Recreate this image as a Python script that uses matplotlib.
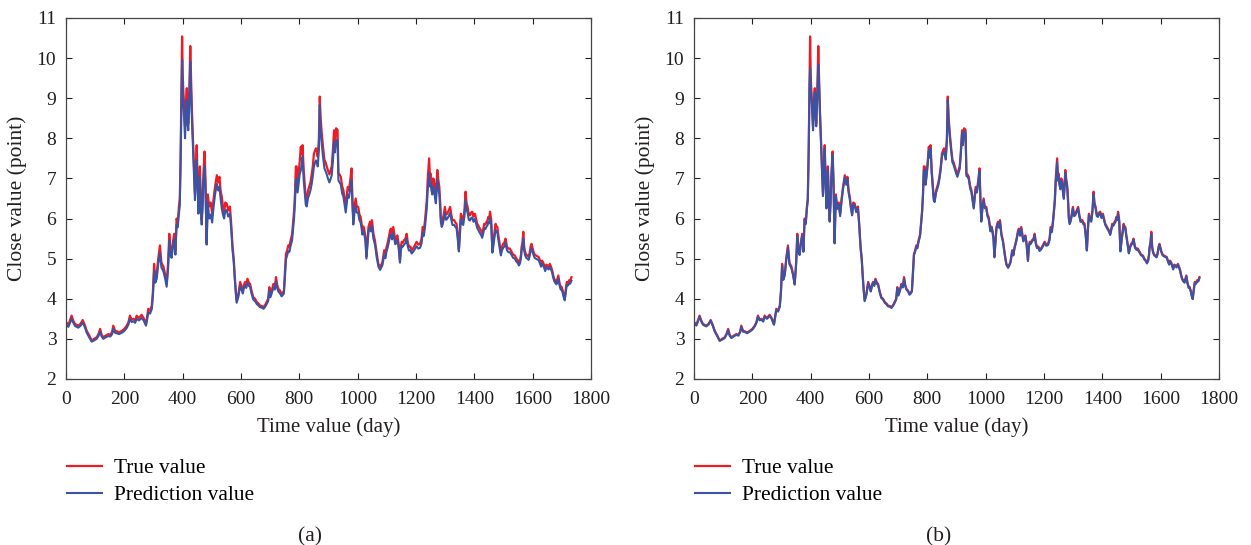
import numpy as np
import matplotlib
matplotlib.use("Agg")
import matplotlib.pyplot as plt

# values
days = [0, 8, 19, 25, 31, 42, 50, 57, 64, 71, 80, 88, 96, 105, 111, 117, 122, 128, 136, 145,
        152, 158, 162, 168, 174, 182, 191, 200, 208, 214, 219, 225, 231, 237, 242, 250, 259, 266, 274, 279,
        282, 288, 294, 298, 302, 306, 311, 316, 322, 327, 334, 340, 345, 350, 354, 358, 362, 366, 371, 375,
        379, 383, 387, 390, 393, 396, 398, 400, 402, 405, 408, 411, 414, 417, 419, 422, 426, 429, 432, 435,
        437, 440, 442, 445, 448, 451, 454, 457, 459, 462, 465, 468, 471, 475, 478, 482, 486, 491, 496, 501,
        506, 511, 517, 522, 526, 530, 534, 538, 542, 546, 551, 556, 562, 566, 571, 575, 578, 582, 585, 591,
        597, 602, 606, 610, 614, 618, 622, 627, 631, 636, 642, 648, 654, 660, 665, 671, 677, 683, 688, 693,
        697, 701, 705, 708, 711, 716, 720, 724, 728, 734, 739, 743, 747, 751, 754, 758, 762, 766, 770, 775,
        779, 782, 785, 788, 791, 794, 797, 801, 805, 808, 811, 815, 819, 822, 825, 830, 834, 838, 842, 846,
        850, 854, 857, 860, 863, 867, 870, 873, 877, 881, 886, 890, 894, 898, 903, 907, 911, 915, 919, 922,
        926, 931, 934, 938, 942, 947, 951, 955, 959, 963, 966, 970, 974, 979, 982, 985, 989, 993, 997, 1002,
        1006, 1010, 1013, 1016, 1020, 1023, 1027, 1030, 1034, 1037, 1042, 1046, 1049, 1054, 1059, 1062, 1065, 1068, 1071, 1077,
        1081, 1085, 1091, 1095, 1099, 1103, 1107, 1111, 1114, 1118, 1122, 1126, 1129, 1133, 1136, 1140, 1145, 1148, 1151, 1155,
        1159, 1164, 1168, 1172, 1176, 1181, 1185, 1189, 1193, 1197, 1202, 1208, 1214, 1219, 1223, 1227, 1231, 1234, 1237, 1240,
        1245, 1248, 1250, 1253, 1256, 1259, 1262, 1265, 1268, 1271, 1273, 1276, 1280, 1283, 1285, 1288, 1291, 1295, 1299, 1303,
        1307, 1312, 1317, 1321, 1325, 1331, 1335, 1339, 1343, 1347, 1351, 1354, 1358, 1362, 1366, 1370, 1373, 1377, 1381, 1385,
        1389, 1393, 1397, 1402, 1406, 1410, 1415, 1419, 1423, 1427, 1431, 1434, 1438, 1442, 1445, 1448, 1451, 1454, 1458, 1462,
        1465, 1467, 1470, 1473, 1476, 1479, 1482, 1485, 1488, 1491, 1495, 1499, 1503, 1507, 1512, 1517, 1522, 1528, 1533, 1539,
        1544, 1549, 1553, 1557, 1560, 1562, 1565, 1568, 1571, 1574, 1578, 1582, 1586, 1589, 1593, 1596, 1600, 1603, 1607, 1611,
        1616, 1621, 1625, 1629, 1632, 1635, 1639, 1643, 1647, 1651, 1655, 1659, 1663, 1667, 1670, 1674, 1678, 1682, 1685, 1688,
        1692, 1696, 1699, 1703, 1706, 1710, 1713, 1717, 1721, 1725, 1729, 1733]

true_value = [3.42, 3.35, 3.58, 3.45, 3.37, 3.33, 3.38, 3.47, 3.35, 3.20, 3.08, 2.96, 3.00, 3.04, 3.12, 3.25, 3.10, 3.04, 3.08, 3.12,
              3.10, 3.18, 3.33, 3.20, 3.19, 3.16, 3.20, 3.25, 3.33, 3.42, 3.58, 3.48, 3.50, 3.45, 3.58, 3.52, 3.60, 3.52, 3.37, 3.60,
              3.75, 3.70, 3.83, 4.20, 4.87, 4.50, 4.62, 5.00, 5.33, 4.90, 4.80, 4.60, 4.37, 4.90, 5.62, 5.20, 5.12, 5.40, 5.62, 5.20,
              6.00, 5.90, 6.30, 6.50, 7.70, 9.50, 10.54, 9.60, 9.20, 8.80, 8.30, 8.90, 9.25, 8.60, 8.37, 9.00, 10.30, 9.40, 8.62, 8.00,
              7.54, 7.00, 6.62, 7.20, 7.83, 7.00, 6.30, 6.80, 7.30, 6.50, 5.96, 6.40, 7.10, 7.67, 7.00, 5.40, 6.60, 6.30, 6.40, 6.12,
              6.50, 6.80, 7.08, 6.90, 7.04, 6.70, 6.54, 6.30, 6.12, 6.40, 6.37, 6.20, 6.30, 5.90, 5.30, 5.00, 4.62, 4.20, 3.96, 4.12,
              4.42, 4.30, 4.20, 4.35, 4.42, 4.35, 4.50, 4.40, 4.37, 4.20, 4.04, 4.00, 3.92, 3.88, 3.83, 3.82, 3.79, 3.85, 3.92, 4.00,
              4.29, 4.10, 4.20, 4.28, 4.37, 4.30, 4.54, 4.35, 4.25, 4.20, 4.12, 4.15, 4.20, 4.70, 5.12, 5.20, 5.33, 5.30, 5.46, 5.60,
              5.96, 6.20, 6.62, 7.30, 7.30, 6.90, 7.10, 7.40, 7.79, 7.60, 7.83, 7.20, 6.80, 6.50, 6.46, 6.70, 6.80, 6.90, 7.08, 7.30,
              7.62, 7.70, 7.75, 7.70, 7.54, 8.00, 9.04, 8.50, 8.12, 7.80, 7.46, 7.40, 7.30, 7.20, 7.10, 7.20, 7.30, 7.70, 8.20, 7.90,
              8.25, 8.21, 7.12, 7.10, 7.04, 6.80, 6.71, 6.50, 6.29, 6.60, 6.79, 6.70, 6.92, 7.25, 6.50, 5.96, 6.30, 6.50, 6.30, 6.29,
              6.10, 6.04, 5.90, 5.71, 5.80, 5.71, 5.50, 5.05, 5.50, 5.79, 5.92, 5.80, 5.96, 5.62, 5.46, 5.30, 5.12, 5.00, 4.87, 4.79,
              4.85, 4.92, 5.21, 5.10, 5.29, 5.40, 5.54, 5.70, 5.75, 5.60, 5.79, 5.60, 5.46, 5.50, 5.58, 5.40, 4.96, 5.30, 5.42, 5.40,
              5.46, 5.50, 5.62, 5.40, 5.29, 5.30, 5.21, 5.25, 5.29, 5.35, 5.42, 5.35, 5.37, 5.50, 5.79, 5.70, 5.96, 6.20, 6.46, 6.96,
              7.50, 7.00, 7.12, 6.90, 6.79, 7.00, 6.96, 6.70, 6.54, 6.90, 7.21, 7.00, 6.79, 6.40, 6.04, 5.90, 5.96, 6.10, 6.29, 6.10,
              6.12, 6.20, 6.29, 6.10, 5.96, 5.96, 5.90, 5.87, 5.60, 5.22, 5.80, 6.12, 6.00, 5.96, 6.20, 6.67, 6.40, 6.29, 6.10, 6.08,
              6.15, 6.17, 6.05, 6.12, 6.00, 5.87, 5.80, 5.75, 5.70, 5.62, 5.75, 5.87, 5.85, 5.92, 5.95, 6.04, 6.00, 6.17, 5.96, 5.20,
              5.40, 5.54, 5.70, 5.87, 5.80, 5.79, 5.60, 5.46, 5.30, 5.15, 5.30, 5.37, 5.40, 5.50, 5.30, 5.25, 5.25, 5.17, 5.10, 5.08,
              5.00, 4.96, 4.90, 4.96, 5.10, 5.29, 5.40, 5.67, 5.30, 5.17, 5.10, 5.08, 5.05, 5.12, 5.30, 5.37, 5.25, 5.17, 5.10, 5.08,
              5.06, 5.04, 4.95, 4.87, 4.95, 4.92, 4.85, 4.75, 4.85, 4.83, 4.80, 4.87, 4.80, 4.71, 4.60, 4.50, 4.45, 4.42, 4.50, 4.58,
              4.40, 4.29, 4.30, 4.21, 4.10, 4.00, 4.20, 4.42, 4.40, 4.46, 4.45, 4.54]

pred_a = [3.36, 3.30, 3.50, 3.40, 3.32, 3.28, 3.33, 3.41, 3.30, 3.15, 3.03, 2.93, 2.96, 3.00, 3.07, 3.18, 3.06, 3.00, 3.04, 3.07,
          3.06, 3.12, 3.25, 3.15, 3.14, 3.12, 3.15, 3.20, 3.27, 3.36, 3.50, 3.42, 3.44, 3.40, 3.50, 3.46, 3.52, 3.46, 3.33, 3.52,
          3.66, 3.63, 3.74, 4.08, 4.70, 4.40, 4.50, 4.86, 5.15, 4.78, 4.68, 4.50, 4.30, 4.76, 5.45, 5.08, 5.02, 5.26, 5.48, 5.10,
          5.84, 5.78, 6.12, 6.32, 7.40, 9.10, 9.96, 9.30, 8.87, 8.50, 8.00, 8.60, 8.96, 8.35, 8.20, 8.70, 9.92, 9.10, 8.40, 7.80,
          7.40, 6.85, 6.46, 7.00, 7.46, 6.80, 6.12, 6.60, 7.05, 6.30, 5.85, 6.22, 6.90, 7.30, 6.80, 5.35, 6.40, 6.00, 6.10, 5.90,
          6.30, 6.60, 6.87, 6.70, 6.79, 6.50, 6.25, 6.10, 6.00, 6.20, 6.21, 6.05, 6.12, 5.78, 5.20, 4.92, 4.55, 4.14, 3.90, 4.05,
          4.33, 4.22, 4.13, 4.27, 4.33, 4.27, 4.40, 4.32, 4.30, 4.13, 3.98, 3.94, 3.87, 3.83, 3.79, 3.78, 3.75, 3.80, 3.87, 3.94,
          4.20, 4.04, 4.13, 4.20, 4.28, 4.23, 4.44, 4.27, 4.18, 4.13, 4.06, 4.09, 4.13, 4.58, 4.98, 5.08, 5.18, 5.17, 5.32, 5.45,
          5.78, 6.02, 6.40, 6.95, 7.00, 6.65, 6.85, 7.10, 7.20, 7.35, 7.54, 6.95, 6.60, 6.35, 6.30, 6.52, 6.60, 6.70, 6.85, 7.05,
          7.30, 7.40, 7.45, 7.42, 7.30, 7.70, 8.83, 8.20, 7.85, 7.55, 7.25, 7.18, 7.10, 7.00, 6.90, 6.98, 7.08, 7.42, 7.90, 7.65,
          7.96, 7.95, 6.95, 6.90, 6.85, 6.62, 6.55, 6.35, 6.15, 6.42, 6.60, 6.52, 6.72, 6.95, 6.35, 5.85, 6.15, 6.32, 6.15, 6.14,
          5.96, 5.90, 5.78, 5.60, 5.68, 5.60, 5.40, 5.00, 5.38, 5.65, 5.78, 5.68, 5.82, 5.50, 5.36, 5.21, 5.04, 4.93, 4.80, 4.72,
          4.78, 4.84, 5.10, 5.01, 5.18, 5.28, 5.42, 5.56, 5.60, 5.48, 5.64, 5.48, 5.36, 5.39, 5.46, 5.30, 4.90, 5.20, 5.31, 5.30,
          5.35, 5.39, 5.50, 5.30, 5.20, 5.21, 5.13, 5.16, 5.20, 5.25, 5.31, 5.25, 5.27, 5.38, 5.64, 5.57, 5.80, 6.02, 6.26, 6.70,
          7.12, 6.80, 6.90, 6.70, 6.60, 6.80, 6.76, 6.52, 6.38, 6.70, 6.98, 6.80, 6.60, 6.25, 5.92, 5.79, 5.84, 5.97, 6.14, 5.97,
          5.99, 6.06, 6.14, 5.97, 5.84, 5.84, 5.79, 5.76, 5.50, 5.18, 5.66, 5.98, 5.88, 5.84, 6.05, 6.45, 6.24, 6.14, 5.97, 5.95,
          6.01, 6.03, 5.92, 5.99, 5.88, 5.76, 5.69, 5.64, 5.59, 5.52, 5.64, 5.76, 5.74, 5.80, 5.83, 5.91, 5.88, 6.02, 5.84, 5.15,
          5.30, 5.42, 5.57, 5.72, 5.68, 5.66, 5.49, 5.36, 5.21, 5.08, 5.21, 5.27, 5.30, 5.39, 5.21, 5.16, 5.16, 5.09, 5.02, 5.00,
          4.93, 4.89, 4.83, 4.89, 5.02, 5.19, 5.29, 5.50, 5.20, 5.09, 5.02, 5.00, 4.97, 5.04, 5.20, 5.26, 5.16, 5.09, 5.02, 5.00,
          4.98, 4.96, 4.88, 4.80, 4.88, 4.85, 4.78, 4.69, 4.78, 4.76, 4.73, 4.80, 4.73, 4.65, 4.54, 4.44, 4.39, 4.36, 4.44, 4.51,
          4.34, 4.23, 4.24, 4.15, 4.05, 3.96, 4.13, 4.35, 4.33, 4.38, 4.38, 4.45]

pred_b = [3.40, 3.33, 3.55, 3.43, 3.35, 3.31, 3.36, 3.45, 3.33, 3.18, 3.06, 2.95, 2.98, 3.02, 3.10, 3.22, 3.08, 3.02, 3.06, 3.10,
          3.08, 3.16, 3.30, 3.18, 3.17, 3.14, 3.18, 3.23, 3.31, 3.40, 3.55, 3.46, 3.48, 3.43, 3.55, 3.50, 3.57, 3.50, 3.35, 3.57,
          3.72, 3.68, 3.80, 4.15, 4.82, 4.47, 4.58, 4.95, 5.28, 4.86, 4.76, 4.57, 4.35, 4.85, 5.56, 5.16, 5.09, 5.36, 5.57, 5.17,
          5.95, 5.86, 6.25, 6.45, 7.60, 9.30, 9.75, 9.40, 9.10, 8.70, 8.20, 8.80, 9.15, 8.50, 8.30, 8.90, 9.85, 9.30, 8.55, 7.92,
          7.48, 6.95, 6.56, 7.14, 7.75, 6.93, 6.25, 6.74, 7.22, 6.44, 5.92, 6.35, 7.04, 7.58, 6.94, 5.38, 6.55, 6.24, 6.34, 6.06,
          6.44, 6.74, 7.02, 6.84, 6.98, 6.64, 6.48, 6.25, 6.08, 6.35, 6.32, 6.16, 6.25, 5.86, 5.27, 4.97, 4.60, 4.18, 3.94, 4.10,
          4.39, 4.28, 4.18, 4.32, 4.39, 4.32, 4.47, 4.37, 4.35, 4.18, 4.02, 3.98, 3.90, 3.86, 3.81, 3.80, 3.77, 3.83, 3.90, 3.98,
          4.26, 4.08, 4.18, 4.25, 4.34, 4.28, 4.50, 4.32, 4.23, 4.18, 4.10, 4.13, 4.18, 4.66, 5.08, 5.17, 5.29, 5.26, 5.42, 5.56,
          5.91, 6.15, 6.55, 7.22, 7.22, 6.84, 7.03, 7.32, 7.70, 7.52, 7.75, 7.12, 6.74, 6.45, 6.41, 6.65, 6.74, 6.84, 7.01, 7.23,
          7.54, 7.62, 7.67, 7.62, 7.47, 7.92, 8.96, 8.42, 8.05, 7.73, 7.40, 7.34, 7.24, 7.14, 7.04, 7.14, 7.24, 7.62, 8.12, 7.83,
          8.18, 8.14, 7.06, 7.04, 6.98, 6.74, 6.66, 6.45, 6.25, 6.55, 6.73, 6.65, 6.86, 7.18, 6.45, 5.92, 6.26, 6.45, 6.26, 6.25,
          6.06, 6.00, 5.86, 5.68, 5.77, 5.68, 5.47, 5.03, 5.46, 5.75, 5.88, 5.77, 5.92, 5.58, 5.43, 5.27, 5.10, 4.98, 4.85, 4.77,
          4.83, 4.90, 5.18, 5.08, 5.26, 5.37, 5.50, 5.66, 5.71, 5.57, 5.75, 5.57, 5.43, 5.47, 5.55, 5.37, 4.94, 5.27, 5.39, 5.37,
          5.43, 5.47, 5.58, 5.37, 5.26, 5.27, 5.19, 5.22, 5.26, 5.32, 5.39, 5.32, 5.34, 5.46, 5.75, 5.66, 5.91, 6.15, 6.40, 6.88,
          7.40, 6.94, 7.05, 6.84, 6.73, 6.94, 6.90, 6.65, 6.49, 6.84, 7.14, 6.94, 6.73, 6.35, 6.00, 5.86, 5.92, 6.06, 6.25, 6.06,
          6.08, 6.16, 6.25, 6.06, 5.92, 5.92, 5.86, 5.84, 5.57, 5.20, 5.76, 6.08, 5.96, 5.92, 6.15, 6.60, 6.35, 6.25, 6.06, 6.04,
          6.11, 6.13, 6.01, 6.08, 5.96, 5.84, 5.77, 5.72, 5.67, 5.59, 5.72, 5.84, 5.82, 5.88, 5.91, 6.00, 5.96, 6.12, 5.92, 5.18,
          5.37, 5.50, 5.66, 5.82, 5.77, 5.75, 5.57, 5.43, 5.27, 5.13, 5.27, 5.34, 5.37, 5.47, 5.27, 5.22, 5.22, 5.15, 5.08, 5.06,
          4.98, 4.94, 4.88, 4.94, 5.08, 5.26, 5.36, 5.60, 5.27, 5.15, 5.08, 5.06, 5.03, 5.10, 5.27, 5.34, 5.22, 5.15, 5.08, 5.06,
          5.04, 5.02, 4.93, 4.85, 4.93, 4.90, 4.83, 4.73, 4.83, 4.81, 4.78, 4.85, 4.78, 4.69, 4.58, 4.48, 4.43, 4.40, 4.48, 4.56,
          4.38, 4.27, 4.28, 4.19, 4.08, 3.99, 4.18, 4.39, 4.37, 4.43, 4.43, 4.51]

x_ticks = list(range(0, 1801, 200))
y_ticks = list(range(2, 12))

red = '#ed1c24'
blue = '#3a53a4'
ink = '#231f20'

plt.rcParams['font.family'] = ['Liberation Serif', 'DejaVu Serif']

fig = plt.figure(figsize=(12.51, 5.45), dpi=100)

panels = [(0.0528, pred_a, '(a)'), (0.5548, pred_b, '(b)')]
for left, pred, tag in panels:
    ax = fig.add_axes([left, 0.3046, 0.4196, 0.6624])
    ax.plot(days, true_value, color=red, lw=1.6, label='True value')
    ax.plot(days, pred, color=blue, lw=1.5, label='Prediction value')
    ax.set_xlim(0, 1800)
    ax.set_ylim(2, 11)
    ax.set_xticks(x_ticks)
    ax.set_yticks(y_ticks)
    ax.tick_params(direction='in', top=True, right=True, length=4.5, width=0.8,
                   colors=ink, labelsize=14)
    ax.tick_params(axis='x', pad=8.5)
    ax.tick_params(axis='y', pad=7)
    for sp in ax.spines.values():
        sp.set_color('#444444')
        sp.set_linewidth(0.9)
    ax.set_xlabel('Time value (day)', fontsize=15, color=ink)
    ax.set_ylabel('Close value (point)', fontsize=15.5, color=ink)
    ax.xaxis.set_label_coords(0.5, -0.106)
    ax.yaxis.set_label_coords(-0.075, 0.5)
    ax.legend(loc='upper left', bbox_to_anchor=(0.002, -0.219), frameon=False,
              fontsize=15.4, handlelength=1.64, handletextpad=0.56,
              labelspacing=0.35, borderpad=0, borderaxespad=0)
    fig.text(left + 0.4196 * 0.465, 1 - 537 / 545, tag, ha='center', va='center',
             fontsize=15.5, color=ink)

fig.savefig('out.png', dpi=100)
